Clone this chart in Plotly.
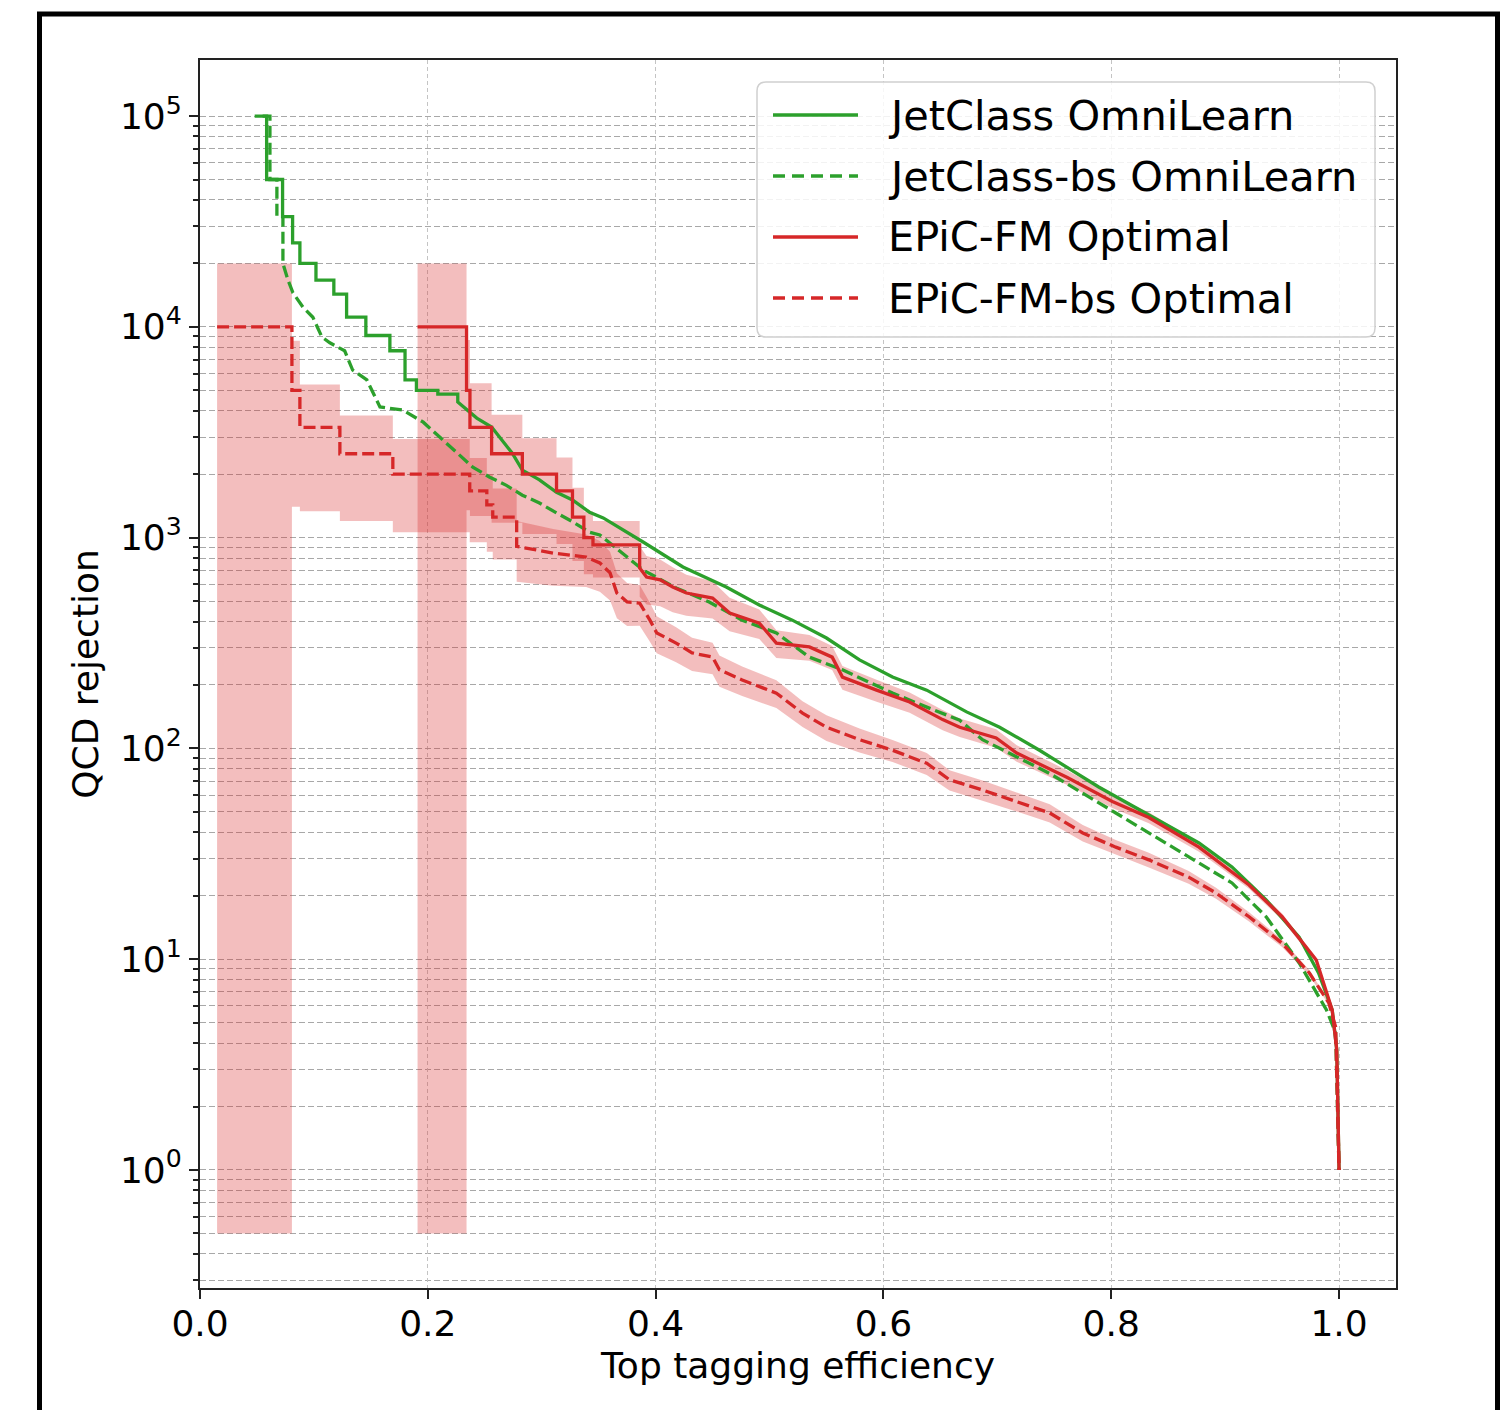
import plotly.graph_objects as go

# ---------------------------------------------------------------------------
# ROC curves: QCD rejection (1/eps_B) versus top tagging efficiency (eps_S)
# ---------------------------------------------------------------------------

# JetClass OmniLearn
jc_eff = [0.048, 0.0585, 0.0585, 0.0725, 0.0725, 0.0813, 0.0813, 0.0877, 0.0877,
          0.1018, 0.1018, 0.1175, 0.1175, 0.1287, 0.1287, 0.1456, 0.1456, 0.1667,
          0.1667, 0.180, 0.180, 0.190, 0.190, 0.2088, 0.2088, 0.2263, 0.2263,
          0.235, 0.243, 0.256, 0.265, 0.274, 0.283, 0.298, 0.313, 0.327, 0.342,
          0.354, 0.389, 0.424, 0.462, 0.491, 0.520, 0.550, 0.579, 0.608, 0.638,
          0.673, 0.702, 0.737, 0.789, 0.836, 0.877, 0.906, 0.936, 0.965, 0.982,
          0.994, 0.998, 1.000]
jc_rej = [100000, 100000, 50000, 50000, 33333, 33333, 25000, 25000, 20000,
          20000, 16667, 16667, 14286, 14286, 11111, 11111, 9100, 9100,
          7700, 7700, 5600, 5600, 5000, 5000, 4800, 4800, 4400,
          4030, 3690, 3350, 2900, 2520, 2090, 1880, 1640, 1510, 1320,
          1240, 953, 726, 583, 479, 406, 334, 263, 218, 189,
          149, 126, 98, 65.6, 47.3, 35.6, 27.4, 19.1, 12.7, 8.6,
          5.74, 3.71, 1.0]

# JetClass-bs OmniLearn
jcbs_eff = [0.055, 0.0614, 0.0614, 0.0675, 0.0675, 0.0728, 0.0728, 0.0772, 0.0816,
            0.0904, 0.0991, 0.107, 0.114, 0.127, 0.134, 0.1465, 0.158, 0.178,
            0.196, 0.2105, 0.2254, 0.2395, 0.254, 0.269, 0.283, 0.298, 0.313,
            0.327, 0.342, 0.351, 0.389, 0.418, 0.447, 0.476, 0.506, 0.535,
            0.564, 0.608, 0.638, 0.667, 0.687, 0.746, 0.804, 0.862, 0.906,
            0.936, 0.965, 0.989, 0.997, 1.000]
jcbs_rej = [100000, 100000, 50000, 50000, 33333, 33333, 20000, 16700, 14500,
            12400, 11100, 8950, 8400, 7700, 6240, 5600, 4170, 4030,
            3530, 3000, 2520, 2160, 1940, 1770, 1590, 1460, 1310,
            1190, 1060, 1030, 702, 577, 495, 406, 353, 271,
            236, 183, 157, 136, 110, 76, 49.4, 31.9, 23,
            15.9, 9.6, 5.74, 4.47, 1.0]

# EPiC-FM Optimal (bootstrap mean with relative spread)
epic_eff = [0.191, 0.234, 0.234, 0.237, 0.237, 0.256, 0.256, 0.283, 0.283,
            0.313, 0.313, 0.327, 0.327, 0.337, 0.337, 0.345, 0.345, 0.386,
            0.386, 0.392, 0.404, 0.415, 0.427, 0.450, 0.465, 0.491, 0.506,
            0.535, 0.555, 0.564, 0.594, 0.623, 0.652, 0.667, 0.699, 0.717,
            0.761, 0.801, 0.833, 0.877, 0.921, 0.950, 0.980, 0.994, 0.998,
            1.000]
epic_rej = [10000, 10000, 5000, 5000, 3333, 3333, 2500, 2500, 2000,
            2000, 1667, 1667, 1250, 1250, 1000, 1000, 923, 923,
            718, 650, 630, 583, 546, 517, 439, 393, 316,
            303, 271, 218, 189, 166, 137, 126, 112, 95,
            73, 56, 47, 34, 22.5, 15.9, 9.9, 5.74, 3.71,
            1.0]
epic_rel = [1.0, 1.0, 0.73, 0.73, 0.62, 0.62, 0.53, 0.53, 0.48,
            0.48, 0.44, 0.44, 0.38, 0.38, 0.33, 0.33, 0.30, 0.30,
            0.27, 0.26, 0.25, 0.24, 0.22, 0.20, 0.18, 0.16, 0.15,
            0.14, 0.13, 0.13, 0.12, 0.11, 0.11, 0.10, 0.10, 0.09,
            0.08, 0.07, 0.06, 0.05, 0.04, 0.035, 0.03, 0.02, 0.01,
            0.0]

# EPiC-FM-bs Optimal
epicbs_eff = [0.015, 0.0807, 0.0807, 0.0877, 0.0877, 0.1228, 0.1228, 0.1693, 0.1693,
              0.2368, 0.2368, 0.2518, 0.2518, 0.257, 0.257, 0.278, 0.278, 0.310,
              0.339, 0.351, 0.360, 0.366, 0.375, 0.386, 0.395, 0.401, 0.418,
              0.432, 0.450, 0.456, 0.476, 0.506, 0.529, 0.550, 0.579, 0.608,
              0.638, 0.658, 0.687, 0.731, 0.746, 0.775, 0.804, 0.833, 0.868,
              0.892, 0.921, 0.950, 0.974, 0.991, 0.997, 1.000]
epicbs_rej = [10000, 10000, 5000, 5000, 3333, 3333, 2500, 2500, 2000,
              2000, 1667, 1667, 1429, 1429, 1250, 1250, 909, 845,
              809, 759, 680, 546, 495, 489, 406, 353, 316,
              284, 271, 236, 211, 183, 147, 126, 110, 98,
              85, 71, 63.5, 52.7, 49.4, 39.7, 34, 29.6, 24.5,
              20.6, 15.9, 11.9, 8.6, 6.2, 4.77, 1.0]
epicbs_rel = [1.0, 1.0, 0.72, 0.72, 0.60, 0.60, 0.52, 0.52, 0.47,
              0.47, 0.43, 0.43, 0.40, 0.40, 0.37, 0.37, 0.32, 0.30,
              0.28, 0.27, 0.26, 0.24, 0.23, 0.22, 0.21, 0.20, 0.19,
              0.18, 0.17, 0.17, 0.16, 0.15, 0.14, 0.14, 0.13, 0.12,
              0.12, 0.11, 0.11, 0.10, 0.10, 0.09, 0.08, 0.08, 0.07,
              0.06, 0.05, 0.04, 0.03, 0.02, 0.01, 0.0]

labels = ["JetClass OmniLearn", "JetClass-bs OmniLearn",
          "EPiC-FM Optimal", "EPiC-FM-bs Optimal"]

x_ticks = [0.0, 0.2, 0.4, 0.6, 0.8, 1.0]
y_ticks = [1, 10, 100, 1000, 10000, 100000]
y_ticktext = ["10<sup>%d</sup>" % k for k in range(6)]

GREEN = "#2ca02c"
RED = "#d62728"
BAND = "rgba(214,39,40,0.30)"
DASH = "12px,5px"
LEGEND_DASH = "12px,7px"
LW = 3.3
FONT = "DejaVu Sans"
BAND_FLOOR = 0.5  # lower edge of the band where the spread reaches zero rejection

# figure geometry (pixels)
W, H = 1511, 1410
L, R, T, B = 200, 1396, 60, 1288


def px_x(px):
    return (px - L) / (R - L)


def px_y(py):
    return (B - py) / (B - T)


def band_trace(eff, rej, rel):
    hi = [r * (1 + e) for r, e in zip(rej, rel)]
    lo = [max(r * (1 - e), BAND_FLOOR) for r, e in zip(rej, rel)]
    return go.Scatter(x=list(eff) + list(eff[::-1]), y=hi + lo[::-1],
                      fill="toself", fillcolor=BAND, mode="lines",
                      line=dict(width=0), hoverinfo="skip", showlegend=False)


fig = go.Figure()
fig.add_trace(band_trace(epic_eff, epic_rej, epic_rel))
fig.add_trace(band_trace(epicbs_eff, epicbs_rej, epicbs_rel))

fig.add_trace(go.Scatter(x=jc_eff, y=jc_rej, mode="lines", name=labels[0],
                         line=dict(color=GREEN, width=LW)))
fig.add_trace(go.Scatter(x=jcbs_eff, y=jcbs_rej, mode="lines", name=labels[1],
                         line=dict(color=GREEN, width=LW, dash=DASH)))
fig.add_trace(go.Scatter(x=epic_eff, y=epic_rej, mode="lines", name=labels[2],
                         line=dict(color=RED, width=LW)))
fig.add_trace(go.Scatter(x=epicbs_eff, y=epicbs_rej, mode="lines", name=labels[3],
                         line=dict(color=RED, width=LW, dash=DASH)))

minor_vals = [m * 10 ** k for k in range(-1, 6) for m in range(2, 10)
              if 0.27 < m * 10 ** k < 1.8e5]

axis_common = dict(
    showline=True, linecolor="#222222", linewidth=2, mirror=True,
    ticks="outside", ticklen=9, tickwidth=2, tickcolor="#222222",
    tickfont=dict(family=FONT, size=36, color="black"),
    zeroline=False,
)

fig.update_layout(
    width=W, height=H,
    margin=dict(l=L, r=W - R, t=T, b=H - B),
    paper_bgcolor="white", plot_bgcolor="white",
    font=dict(family=FONT, size=36, color="black"),
    showlegend=False,
    xaxis=dict(
        range=[0, 1.05], tickvals=x_ticks, ticktext=["%.1f" % v for v in x_ticks],
        showgrid=True, gridcolor="#c4c4c4", gridwidth=1, griddash="4px,3px",
        ticklabelstandoff=-6,
        title=dict(text="Top tagging efficiency", font=dict(family=FONT, size=36),
                   standoff=10),
        **axis_common,
    ),
    yaxis=dict(
        type="log", range=[-0.56, 5.266], tickvals=y_ticks, ticktext=y_ticktext,
        showgrid=True, gridcolor="#a8a8a8", gridwidth=1, griddash="6px,3px",
        minor=dict(tickvals=minor_vals, ticks="outside", ticklen=5, tickwidth=1.5,
                   tickcolor="#222222", showgrid=True, gridcolor="#a8a8a8",
                   gridwidth=1, griddash="6px,3px"),
        title=dict(text="QCD rejection", font=dict(family=FONT, size=36),
                   standoff=10),
        **axis_common,
    ),
)

shapes = []
# outer black frame
shapes.append(dict(type="rect", xref="paper", yref="paper",
                   x0=px_x(39.5), x1=px_x(1497.5), y0=px_y(1430), y1=px_y(14),
                   line=dict(color="black", width=5), fillcolor="rgba(0,0,0,0)",
                   layer="above"))

# legend box with rounded corners
bx0, bx1, by0, by1, rad = 757, 1375, 82, 337, 9
rx = rad / (R - L)
ry = rad / (B - T)
X0, X1, Y0, Y1 = px_x(bx0), px_x(bx1), px_y(by1), px_y(by0)
path = (f"M{X0 + rx},{Y1} L{X1 - rx},{Y1} Q{X1},{Y1} {X1},{Y1 - ry} "
        f"L{X1},{Y0 + ry} Q{X1},{Y0} {X1 - rx},{Y0} L{X0 + rx},{Y0} "
        f"Q{X0},{Y0} {X0},{Y0 + ry} L{X0},{Y1 - ry} Q{X0},{Y1} {X0 + rx},{Y1} Z")
shapes.append(dict(type="path", xref="paper", yref="paper", path=path,
                   fillcolor="rgba(255,255,255,0.85)",
                   line=dict(color="#d0d0d0", width=1.5), layer="above"))

rows = [115, 176, 237, 298]
styles = [(GREEN, "solid"), (GREEN, LEGEND_DASH), (RED, "solid"), (RED, LEGEND_DASH)]
annotations = []
for row, (col, dash), text in zip(rows, styles, labels):
    shapes.append(dict(type="line", xref="paper", yref="paper",
                       x0=px_x(773), x1=px_x(858), y0=px_y(row), y1=px_y(row),
                       line=dict(color=col, width=LW, dash=dash), layer="above"))
    annotations.append(dict(xref="paper", yref="paper", x=px_x(886), y=px_y(row),
                            xanchor="left", yanchor="middle", showarrow=False,
                            text=text, font=dict(family=FONT, size=41.5, color="black")))

fig.update_layout(shapes=shapes, annotations=annotations)

fig.write_html("out.html")
